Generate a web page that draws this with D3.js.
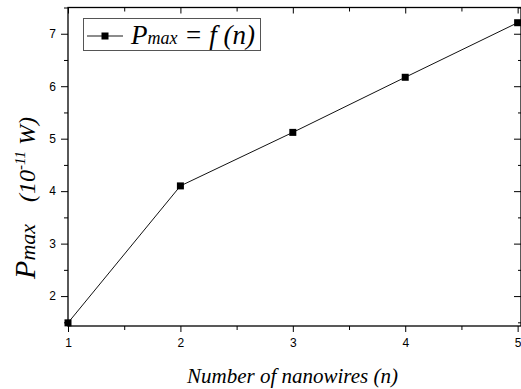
<!DOCTYPE html>
<html>
<head>
<meta charset="utf-8">
<script src="https://cdn.jsdelivr.net/npm/d3@7"></script>
<style>
  body { margin: 0; background: #fff; }
  .serif { font-family: "Liberation Serif", "Times New Roman", serif; font-style: italic; fill: #000; }
</style>
</head>
<body>
<div id="chart"></div>
<script>
var nanowires = [1, 2, 3, 4, 5];
var pmax = [1.49, 4.10, 5.12, 6.17, 7.21];
var xMajor = [1, 2, 3, 4, 5];
var xMinor = [1.5, 2.5, 3.5, 4.5];
var yMajor = [2, 3, 4, 5, 6, 7];
var yMinor = [1.5, 2.5, 3.5, 4.5, 5.5, 6.5, 7.5];

var width = 521, height = 389;
var plotL = 68, plotR = 521, plotT = 7.5, plotB = 326;

var svg = d3.select("#chart").append("svg")
  .attr("width", width)
  .attr("height", height);

var x = d3.scaleLinear().domain([1, 5.03]).range([plotL, plotR]);
var y = d3.scaleLinear().domain([1.43, 7.5]).range([plotB, plotT]);

/* frame */
svg.append("rect")
  .attr("x", plotL).attr("y", plotT)
  .attr("width", plotR - plotL).attr("height", plotB - plotT)
  .attr("fill", "none").attr("stroke", "#000").attr("stroke-width", 1.3);

function axisGroup(axis, tx, ty) {
  var g = svg.append("g")
    .attr("transform", "translate(" + tx + "," + ty + ")")
    .call(axis);
  g.select(".domain").remove();
  g.selectAll(".tick line").attr("stroke", "#000");
  g.selectAll(".tick text")
    .attr("fill", "#000")
    .style("font-family", "'Liberation Sans', Arial, sans-serif")
    .style("font-size", "12px");
  return g;
}

/* bottom: outward ticks with labels */
axisGroup(d3.axisBottom(x).tickValues(xMajor).tickSize(6).tickPadding(6).tickFormat(d3.format("d")), 0, plotB);
axisGroup(d3.axisBottom(x).tickValues(xMinor).tickSize(4).tickFormat(""), 0, plotB);
/* top: inward ticks */
axisGroup(d3.axisTop(x).tickValues(xMajor).tickSize(-6).tickFormat(""), 0, plotT);
axisGroup(d3.axisTop(x).tickValues(xMinor).tickSize(-4).tickFormat(""), 0, plotT);
/* left: outward ticks with labels */
axisGroup(d3.axisLeft(y).tickValues(yMajor).tickSize(7).tickPadding(5).tickFormat(d3.format("d")), plotL, 0);
axisGroup(d3.axisLeft(y).tickValues(yMinor).tickSize(4).tickFormat(""), plotL, 0);
/* right: inward ticks */
axisGroup(d3.axisRight(y).tickValues(yMajor).tickSize(-7).tickFormat(""), plotR, 0);
axisGroup(d3.axisRight(y).tickValues(yMinor).tickSize(-3).tickFormat(""), plotR, 0);

/* line + markers */
var pts = nanowires.map(function(n, i) { return {n: n, p: pmax[i]}; });

svg.append("path")
  .datum(pts)
  .attr("fill", "none")
  .attr("stroke", "#111")
  .attr("stroke-width", 1)
  .attr("d", d3.line().x(d => x(d.n)).y(d => y(d.p)));

svg.selectAll(".pt")
  .data(pts).enter()
  .append("rect")
  .attr("class", "pt")
  .attr("x", d => x(d.n) - 3.5)
  .attr("y", d => y(d.p) - 3.5)
  .attr("width", 7).attr("height", 7)
  .attr("fill", "#000");

/* legend */
var lg = svg.append("g");
lg.append("rect")
  .attr("x", 83.5).attr("y", 18.5).attr("width", 177).attr("height", 32)
  .attr("fill", "#fff").attr("stroke", "#555").attr("stroke-width", 1);
lg.append("line")
  .attr("x1", 87).attr("x2", 123).attr("y1", 36).attr("y2", 36)
  .attr("stroke", "#666").attr("stroke-width", 1.3);
lg.append("rect")
  .attr("x", 101.5).attr("y", 32.5).attr("width", 7).attr("height", 7).attr("fill", "#000");
var lt = lg.append("text").attr("class", "serif").attr("x", 131).attr("y", 44);
lt.append("tspan").attr("font-size", "27px").text("P");
lt.append("tspan").attr("font-size", "18px").text("max");
lt.append("tspan").attr("font-size", "27px").text(" = f (n)");

/* axis titles */
svg.append("text")
  .attr("class", "serif")
  .attr("x", (plotL + 517) / 2).attr("y", 383)
  .attr("text-anchor", "middle")
  .attr("font-size", "21px")
  .text("Number of nanowires (n)");

var yt = svg.append("text")
  .attr("class", "serif")
  .attr("transform", "translate(35," + 198 + ") rotate(-90)")
  .attr("text-anchor", "middle");
yt.append("tspan").attr("font-size", "30px").text("P");
yt.append("tspan").attr("font-size", "22px").text("max");
yt.append("tspan").attr("font-size", "24px").attr("dx", 22).text("(10");
yt.append("tspan").attr("font-size", "15px").attr("dy", -10).text("-11");
yt.append("tspan").attr("font-size", "24px").attr("dy", 10).text(" W)");
</script>
</body>
</html>
